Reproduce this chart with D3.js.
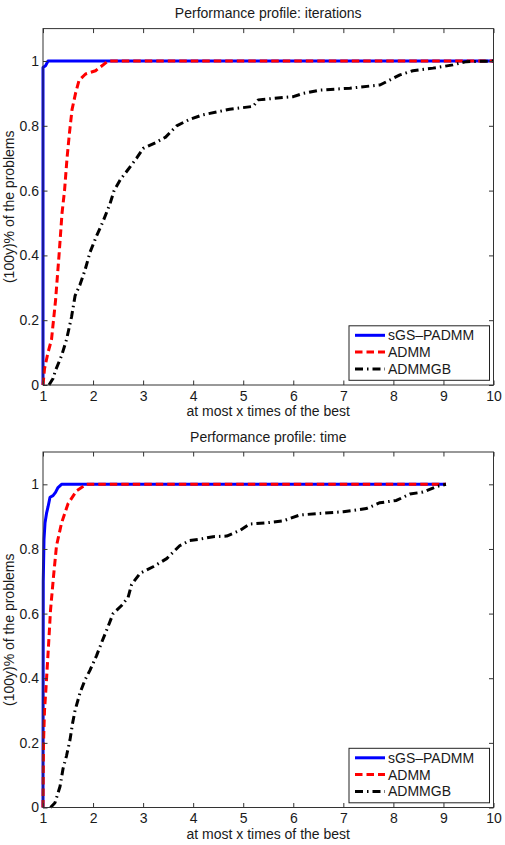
<!DOCTYPE html>
<html><head><meta charset="utf-8">
<script src="https://cdn.jsdelivr.net/npm/d3@7"></script>
<style>
body{margin:0;background:#fff;}
text{font-family:"Liberation Sans",Arial,Helvetica,sans-serif;fill:#1a1a1a;}
</style></head>
<body>
<svg id="chart" width="505" height="845"></svg>
<script>
// ---- data ----
const titles = ["Performance profile: iterations", "Performance profile: time"];
const xLabel = "at most x times of the best";
const yLabel = "(100y)% of the problems";
const seriesNames = ["sGS–PADMM", "ADMM", "ADMMGB"];
const xTicks = [1,2,3,4,5,6,7,8,9,10];
const yTicks = [0,0.2,0.4,0.6,0.8,1];

// iterations panel
const iterSGS = [[1,0],[1,0.98],[1.05,0.985],[1.1,1],[10,1]];
const iterADMM = [[1,0],[1.03,0.05],[1.1,0.1],[1.17,0.14],[1.25,0.26],[1.32,0.4],[1.38,0.53],[1.43,0.6],[1.48,0.7],[1.53,0.78],[1.58,0.85],[1.65,0.9],[1.72,0.94],[1.85,0.96],[2.05,0.97],[2.3,1],[10,1]];
const iterADMMGB = [[1.12,0],[1.2,0.02],[1.25,0.045],[1.37,0.09],[1.47,0.14],[1.57,0.21],[1.64,0.275],[1.74,0.31],[1.84,0.355],[1.94,0.41],[2.07,0.46],[2.2,0.505],[2.34,0.56],[2.42,0.6],[2.55,0.635],[2.7,0.665],[2.87,0.7],[3.0,0.73],[3.25,0.748],[3.45,0.765],[3.67,0.8],[3.93,0.82],[4.2,0.834],[4.73,0.851],[5.2,0.86],[5.3,0.88],[6.0,0.89],[6.2,0.9],[6.53,0.91],[7.13,0.916],[7.73,0.926],[7.86,0.936],[8.13,0.957],[8.39,0.97],[8.79,0.978],[9.19,0.988],[9.46,0.998],[10,1]];

// time panel
const timeSGS = [[1,0],[1.005,0.7],[1.02,0.83],[1.04,0.88],[1.07,0.91],[1.1,0.93],[1.14,0.96],[1.2,0.965],[1.25,0.975],[1.3,0.99],[1.37,1],[9.05,1]];
const timeADMM = [[1,0],[1.01,0.2],[1.03,0.3],[1.06,0.37],[1.11,0.5],[1.15,0.61],[1.21,0.715],[1.27,0.81],[1.37,0.88],[1.5,0.94],[1.67,0.98],[1.87,1],[9.05,1]];
const timeADMMGB = [[1.15,0],[1.24,0.015],[1.34,0.065],[1.4,0.12],[1.47,0.16],[1.54,0.21],[1.59,0.26],[1.64,0.3],[1.74,0.355],[1.84,0.395],[1.94,0.425],[2.07,0.47],[2.17,0.51],[2.3,0.56],[2.4,0.6],[2.57,0.625],[2.7,0.65],[2.77,0.69],[2.94,0.725],[3.2,0.745],[3.47,0.77],[3.73,0.81],[3.93,0.826],[4.13,0.83],[4.4,0.838],[4.67,0.84],[4.93,0.857],[5.13,0.877],[5.53,0.882],[5.8,0.887],[6.13,0.905],[6.53,0.91],[7.0,0.915],[7.46,0.925],[7.73,0.943],[8.06,0.95],[8.33,0.97],[8.59,0.976],[8.86,0.993],[9.05,1]];

const panelData = [[iterSGS, iterADMM, iterADMMGB],[timeSGS, timeADMM, timeADMMGB]];

// ---- styles ----
const styles = [
  {color:"#0000ff", width:3, dash:null},
  {color:"#ff0000", width:3, dash:"7.5,4"},
  {color:"#000000", width:3, dash:"8,4,1.5,4"}
];

const svg = d3.select("#chart");
svg.append("rect").attr("width",505).attr("height",845).attr("fill","#fff");

const left = 43, right = 493.5;
const panels = [{top:28.6, bottom:385}, {top:452, bottom:807.5}];
const fs = 14;

panels.forEach((p, i) => {
  const g = svg.append("g");
  const x = d3.scaleLinear().domain([1,10]).range([left,right]);
  const y = d3.scaleLinear().domain([0,1.1]).range([p.bottom,p.top]);

  // curves
  const line = d3.line().x(d=>x(d[0])).y(d=>y(d[1]));
  panelData[i].forEach((data, k) => {
    const s = styles[k];
    g.append("path").datum(data).attr("d", line)
      .attr("fill","none").attr("stroke", s.color).attr("stroke-width", s.width)
      .attr("stroke-dasharray", s.dash).attr("stroke-linejoin","round");
  });

  // axes (inner ticks, box)
  const tickLen = 4.5;
  g.append("g").attr("transform",`translate(0,${p.bottom})`)
    .call(d3.axisBottom(x).tickValues(xTicks).tickSizeInner(-tickLen).tickSizeOuter(0).tickPadding(6).tickFormat(d3.format("d")))
    .call(a=>{a.select(".domain").remove(); a.selectAll("text").attr("font-size",fs).attr("font-family",null).attr("fill","#1a1a1a"); a.selectAll("line").attr("stroke","#333");});
  g.append("g").attr("transform",`translate(0,${p.top})`)
    .call(d3.axisTop(x).tickValues(xTicks).tickSizeInner(-tickLen).tickSizeOuter(0).tickFormat(""))
    .call(a=>{a.select(".domain").remove(); a.selectAll("line").attr("stroke","#333");});
  g.append("g").attr("transform",`translate(${left},0)`)
    .call(d3.axisLeft(y).tickValues(yTicks).tickSizeInner(-tickLen).tickSizeOuter(0).tickPadding(4).tickFormat(d=>d===0||d===1?String(d):d3.format(".1f")(d)))
    .call(a=>{a.select(".domain").remove(); a.selectAll("text").attr("font-size",fs).attr("font-family",null).attr("fill","#1a1a1a"); a.selectAll("line").attr("stroke","#333");});
  g.append("g").attr("transform",`translate(${right},0)`)
    .call(d3.axisRight(y).tickValues(yTicks).tickSizeInner(-tickLen).tickSizeOuter(0).tickFormat(""))
    .call(a=>{a.select(".domain").remove(); a.selectAll("line").attr("stroke","#333");});
  g.append("rect").attr("x",left).attr("y",p.top).attr("width",right-left).attr("height",p.bottom-p.top)
    .attr("fill","none").attr("stroke","#333").attr("stroke-width",1);

  // title and labels
  g.append("text").attr("x",(left+right)/2).attr("y",p.top-10.5).attr("text-anchor","middle").attr("font-size",fs).text(titles[i]);
  g.append("text").attr("x",(left+right)/2).attr("y",p.bottom+31).attr("text-anchor","middle").attr("font-size",fs).text(xLabel);
  g.append("text").attr("transform",`translate(13.5,${(p.top+p.bottom)/2}) rotate(-90)`).attr("text-anchor","middle").attr("font-size",fs).text(yLabel);

  // legend
  const lb = p.bottom - 4.7, lt = lb - 54.5;
  const lg = g.append("g");
  lg.append("rect").attr("x",349).attr("y",lt).attr("width",140.5).attr("height",lb-lt)
    .attr("fill","#fff").attr("stroke","#222").attr("stroke-width",1);
  seriesNames.forEach((nm,k)=>{
    const yy = lb - 45 + k*16.8;
    const s = styles[k];
    lg.append("line").attr("x1",355).attr("x2",385).attr("y1",yy).attr("y2",yy)
      .attr("stroke",s.color).attr("stroke-width",s.width).attr("stroke-dasharray",s.dash);
    lg.append("text").attr("x",388).attr("y",yy).attr("dy","0.35em").attr("font-size",fs).text(nm);
  });
});
</script>
</body></html>
